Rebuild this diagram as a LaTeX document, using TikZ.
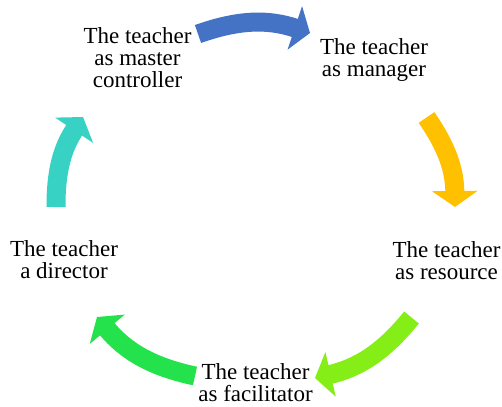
\documentclass[tikz,border=0pt]{standalone}
\usepackage{fontspec}
\setmainfont{Liberation Serif}
\usetikzlibrary{arrows.meta}
\definecolor{cblue}{RGB}{68,114,196}
\definecolor{cyellow}{RGB}{255,192,0}
\definecolor{clime}{RGB}{132,238,22}
\definecolor{cgreen}{RGB}{36,226,76}
\definecolor{cteal}{RGB}{56,210,196}
\begin{document}
\begin{tikzpicture}[x=1pt,y=1pt,
  lbl/.style={align=center,inner sep=0pt,font=\fontsize{23}{22}\selectfont},
  arr/.style={line width=19pt,-{Triangle[length=16pt,width=45pt]}}]
\useasboundingbox (0,0) rectangle (502,-406);
\node[lbl] (mc) at (137.5,-57.4) {The teacher\\as master\\controller};
\node[lbl] (mg) at (374,-59.9) {The teacher\\as manager};
\node[lbl] (rs) at (446.5,-260.4) {The teacher\\as resource};
\node[lbl] (fc) at (255.5,-383) {The teacher\\as facilitator};
\node[lbl] (dr) at (64,-259.4) {The teacher\\a director};
\coordinate (b1) at (198,-34);   \coordinate (b2) at (310,-33);
\coordinate (y1) at (426.5,-117.5); \coordinate (y2) at (455,-207);
\coordinate (l1) at (411.5,-317.5); \coordinate (l2) at (315,-378);
\coordinate (g1) at (195,-376);  \coordinate (g2) at (97,-317);
\coordinate (t1) at (56,-207);   \coordinate (t2) at (83,-117);
\draw[arr,cblue] (b1) to[bend left=19] (b2);
\draw[arr,cyellow] (y1) to[bend left=17] (y2);
\draw[arr,clime] (l1) to[bend left=19] (l2);
\draw[arr,cgreen] (g1) to[bend left=19] (g2);
\draw[arr,cteal] (t1) to[bend left=17] (t2);
\end{tikzpicture}
\end{document}
